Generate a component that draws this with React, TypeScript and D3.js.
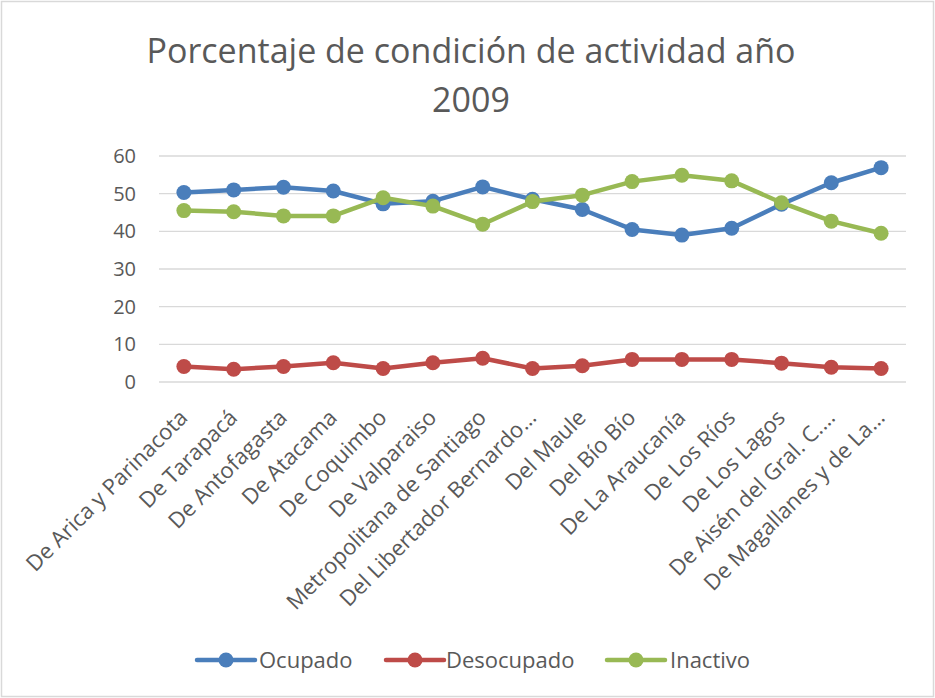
import React from "react";
import * as d3 from "d3";

const categories = [
  "De Arica y Parinacota",
  "De Tarapacá",
  "De Antofagasta",
  "De Atacama",
  "De Coquimbo",
  "De Valparaiso",
  "Metropolitana de Santiago",
  "Del Libertador Bernardo…",
  "Del Maule",
  "Del Bío Bío",
  "De La Araucanía",
  "De Los Ríos",
  "De Los Lagos",
  "De Aisén del Gral. C.…",
  "De Magallanes y de La…",
];

const ocupado = [50.3, 51.0, 51.7, 50.7, 47.3, 48.0, 51.8, 48.5, 45.8, 40.5, 39.0, 40.8, 47.2, 52.9, 56.9];
const desocupado = [4.1, 3.4, 4.1, 5.1, 3.6, 5.1, 6.3, 3.6, 4.3, 6.0, 6.0, 6.0, 5.0, 3.9, 3.6];
const inactivo = [45.5, 45.2, 44.1, 44.1, 48.9, 46.7, 41.9, 47.9, 49.6, 53.2, 54.9, 53.4, 47.6, 42.7, 39.5];

const yTicks = [0, 10, 20, 30, 40, 50, 60];

const seriesNames = ["Ocupado", "Desocupado", "Inactivo"];
const seriesColors = ["#4A7EBB", "#BE4B48", "#98B954"];

const W = 935;
const H = 698;
const FONT = "'Open Sans', 'Liberation Sans', sans-serif";

export default function App() {
  const left = 159;
  const right = 906;
  const top = 156;
  const bottom = 382;

  const x = d3.scaleBand<string>().domain(categories).range([left, right]);
  const y = d3.scaleLinear().domain([0, 60]).range([bottom, top]);
  const cx = (c: string) => (x(c) as number) + x.bandwidth() / 2;

  const allSeries = [ocupado, desocupado, inactivo];
  const line = d3
    .line<number>()
    .x((_, i) => cx(categories[i]))
    .y((d) => y(d));

  const legendItems = [
    { lx: 197, tx: 259 },
    { lx: 386, tx: 446 },
    { lx: 607, tx: 670 },
  ];
  const legendY = 660;

  return (
    <svg
      width={W}
      height={H}
      style={{ position: "absolute", left: 0, top: 0, background: "#fff" }}
      fontFamily={FONT}
    >
      <rect x={1.5} y={1.5} width={W - 3} height={H - 3} fill="#fff" stroke="#d9d9d9" strokeWidth={1.5} />
      <text x={471} y={63} textAnchor="middle" fontSize={34} fill="#595959">
        Porcentaje de condición de actividad año
      </text>
      <text x={471} y={112} textAnchor="middle" fontSize={34} fill="#595959">
        2009
      </text>

      {yTicks.map((t) => (
        <g key={t}>
          <line x1={left} x2={right} y1={y(t)} y2={y(t)} stroke="#d9d9d9" strokeWidth={1.3} />
          <text x={136} y={y(t)} dy="0.35em" textAnchor="end" fontSize={20} fill="#595959">
            {t}
          </text>
        </g>
      ))}

      {categories.map((c) => (
        <text
          key={c}
          transform={`translate(${cx(c) + 5},${bottom + 37}) rotate(-45)`}
          textAnchor="end"
          fontSize={22}
          fill="#595959"
        >
          {c}
        </text>
      ))}

      {allSeries.map((s, si) => (
        <g key={si}>
          <path d={line(s) as string} fill="none" stroke={seriesColors[si]} strokeWidth={4.5} strokeLinejoin="round" strokeLinecap="round" />
          {s.map((v, i) => (
            <circle key={i} cx={cx(categories[i])} cy={y(v)} r={7.5} fill={seriesColors[si]} />
          ))}
        </g>
      ))}

      {seriesNames.map((n, i) => (
        <g key={n}>
          <line x1={legendItems[i].lx} x2={legendItems[i].lx + 58} y1={legendY} y2={legendY} stroke={seriesColors[i]} strokeWidth={4.5} strokeLinecap="round" />
          <circle cx={legendItems[i].lx + 29} cy={legendY} r={7.5} fill={seriesColors[i]} />
          <text x={legendItems[i].tx} y={legendY} dy="0.35em" fontSize={22} fill="#595959">
            {n}
          </text>
        </g>
      ))}
    </svg>
  );
}
